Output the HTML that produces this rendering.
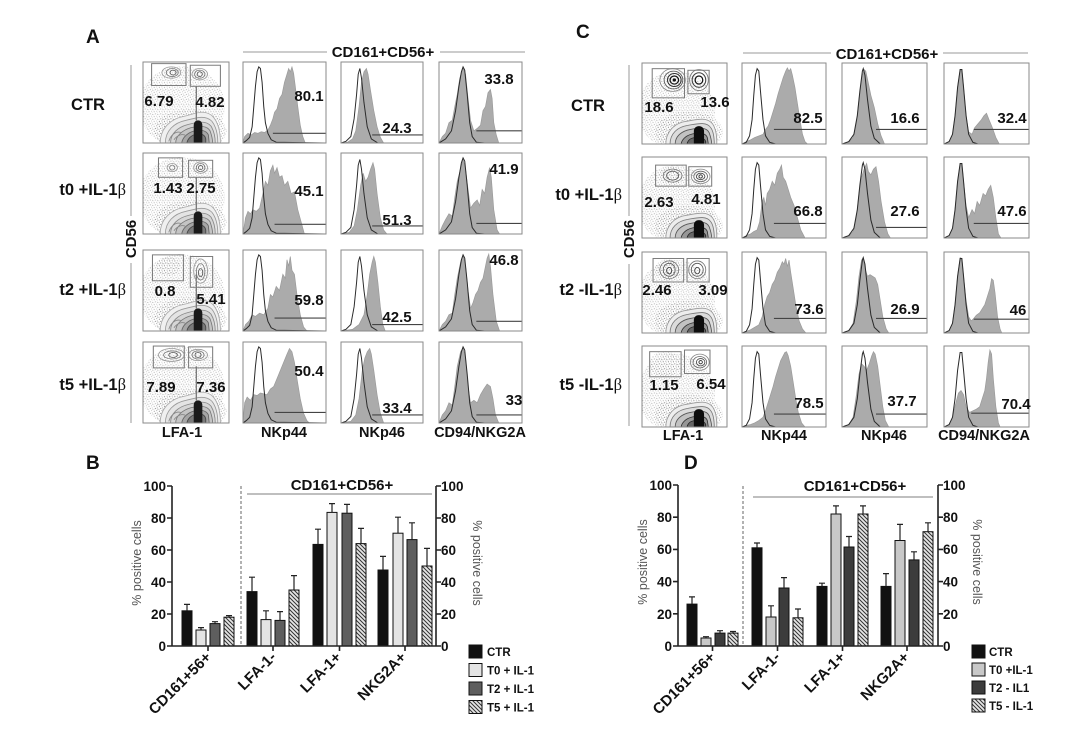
<!DOCTYPE html>
<html><head><meta charset="utf-8"><style>
html,body{margin:0;padding:0;background:#fff}
svg{display:block}
text{font-family:"Liberation Sans",Arial,sans-serif;font-weight:bold;fill:#111}
.num{font-size:15px;text-anchor:middle}
.col{font-size:14.5px;text-anchor:middle}
.rl{font-size:16.5px;text-anchor:end}
.let{font-size:19px}
.hdr{font-size:15px;text-anchor:middle}
.bx{fill:none;stroke:#8a8a8a;stroke-width:1}
.g{fill:#ababab;stroke:#9a9a9a;stroke-width:.8}
.o{fill:none;stroke:#2a2a2a;stroke-width:1.2}
.gt{stroke:#444;stroke-width:1.4}
.gate{fill:none;stroke:#7a7a7a;stroke-width:1.2}
.tk{font-size:13.5px}
.yl{font-size:12.5px;font-weight:normal;fill:#555;text-anchor:middle}
.xl{font-size:15px;text-anchor:end}
.lg{font-size:11.5px}
.ax{stroke:#222;stroke-width:1.6;fill:none}
.eb{stroke:#222;stroke-width:1.2;fill:none}
.bar{stroke:#111;stroke-width:1}
</style></head><body>
<svg width="1080" height="747" viewBox="0 0 1080 747" xmlns="http://www.w3.org/2000/svg">
<defs>
<pattern id="hatch" patternUnits="userSpaceOnUse" width="4" height="4"><rect width="4" height="4" fill="#e6e6e6"/><path d="M-1,-1L5,5M-1,3L1,5M3,-1L5,1" stroke="#333" stroke-width="1"/></pattern>
<pattern id="dots" patternUnits="userSpaceOnUse" width="6" height="6"><circle cx="1" cy="1.5" r=".6" fill="#888"/><circle cx="4" cy=".8" r=".55" fill="#999"/><circle cx="2.5" cy="4" r=".6" fill="#888"/><circle cx="5.2" cy="4.8" r=".55" fill="#999"/><circle cx="4.6" cy="2.8" r=".45" fill="#aaa"/><circle cx=".6" cy="5.3" r=".45" fill="#aaa"/></pattern>
<g id="mA">
<ellipse cx="45" cy="55" rx="50" ry="50" fill="url(#dots)" opacity=".85"/>
<ellipse cx="55" cy="85" rx="42" ry="26" fill="url(#dots)"/>
<path d="M20,100 C20,82 32,70 48,67 C60,64 70,58 80,66 C88,74 90,88 90,100 Z" fill="#f0f0f0" stroke="#aaa" stroke-width="1"/>
<path d="M26,100 C26,85 36,75 50,72 C62,69 72,65 80,73 C86,81 87,92 87,100 Z" fill="#e4e4e4" stroke="#999" stroke-width="1"/>
<path d="M32,100 C32,88 41,80 53,77 C64,74 73,72 79,79 C83,86 84,95 84,100 Z" fill="#d6d6d6" stroke="#888" stroke-width="1"/>
<path d="M38,100 C38,91 46,84 56,81 C66,79 74,78 78,85 C80,91 81,96 81,100 Z" fill="#c4c4c4" stroke="#777" stroke-width="1"/>
<path d="M45,100 C46,93 52,87 60,85 C68,83 74,85 76,90 L77,100 Z" fill="#a6a6a6" stroke="#666" stroke-width="1"/>
<path d="M51,100 C52,94 57,90 62,89 C68,88 72,90 73,95 L73,100 Z" fill="#7a7a7a" stroke="#444"/>
<path d="M59,100 L59,78 C59,70 69,70 69,78 L69,100 Z" fill="#1a1a1a"/>
<path d="M62,30 L62,72" stroke="#777" stroke-width="1.5"/>
<path d="M30,98 C32,90 38,85 44,87 M36,96 C40,90 46,88 50,91" fill="none" stroke="#888" stroke-width="1"/>
</g>
<g id="mC">
<ellipse cx="40" cy="58" rx="46" ry="48" fill="url(#dots)" opacity=".85"/>
<ellipse cx="55" cy="85" rx="40" ry="25" fill="url(#dots)"/>
<path d="M28,100 C28,85 38,74 52,72 C64,70 76,66 83,75 C88,83 88,93 88,100 Z" fill="#eee" stroke="#999" stroke-width="1"/>
<path d="M33,100 C33,88 41,79 54,77 C65,75 76,72 81,80 C85,86 85,95 85,100 Z" fill="#dcdcdc" stroke="#777" stroke-width="1"/>
<path d="M39,100 C39,91 46,84 57,82 C67,80 76,79 79,86 C81,92 82,96 82,100 Z" fill="#c2c2c2" stroke="#555" stroke-width="1"/>
<path d="M46,100 C47,93 54,88 62,87 C70,86 76,87 77,93 L78,100 Z" fill="#979797" stroke="#333" stroke-width="1"/>
<path d="M53,100 C54,95 58,92 64,92 C70,92 74,94 75,97 L75,100 Z" fill="#666" stroke="#222"/>
<path d="M61,100 L61,84 C61,76 73,76 73,84 L73,100 Z" fill="#0d0d0d"/>
</g>
<path id="oA44" d="M0,100 L4,97 L8,93 L11,80 L13,55 L15,30 L17,12 L19,6 L21,8 L23,25 L25,55 L27,75 L30,88 L34,96 L40,99 L100,100"/>
<path id="oA46" d="M0,100 L6,98 L12,92 L16,70 L19,40 L21,15 L23,8 L25,20 L28,50 L32,80 L37,95 L45,100 L100,100"/>
<path id="oA94" d="M0,100 L8,95 L15,85 L20,60 L24,30 L27,12 L29,6 L31,10 L34,40 L37,75 L40,92 L45,99 L55,100 L100,100"/>
<path id="oC44" d="M0,100 L5,98 L9,90 L12,70 L14,40 L16,15 L18,7 L20,10 L22,35 L25,70 L28,90 L33,98 L40,100 L100,100"/>
<path id="oC46" d="M0,100 L8,97 L14,88 L18,65 L21,35 L24,10 L25,7 L27,15 L30,45 L34,78 L38,93 L45,100 L100,100"/>
<path id="oC94" d="M0,100 L6,97 L10,88 L13,65 L16,30 L19,8 L21,8 L23,30 L26,65 L29,88 L34,98 L40,100 L100,100"/>
</defs>

<!-- ================= PANEL A ================= -->
<text x="86" y="43" class="let">A</text>
<line x1="243" y1="52" x2="327" y2="52" stroke="#999"/>
<line x1="440" y1="52" x2="525" y2="52" stroke="#999"/>
<text x="383" y="57" class="hdr">CD161+CD56+</text>
<line x1="131" y1="65" x2="131" y2="216" stroke="#999"/>
<line x1="131" y1="263" x2="131" y2="423" stroke="#999"/>
<text transform="translate(136,239) rotate(-90)" style="font-size:15px;text-anchor:middle">CD56</text>

<text x="88" y="110" style="font-size:16.5px;text-anchor:middle">CTR</text>
<text x="126" y="195" class="rl">t0 +IL-1<tspan style="font-family:'Liberation Serif',serif;font-weight:normal">β</tspan></text>
<text x="126" y="295" class="rl">t2 +IL-1<tspan style="font-family:'Liberation Serif',serif;font-weight:normal">β</tspan></text>
<text x="126" y="390" class="rl">t5 +IL-1<tspan style="font-family:'Liberation Serif',serif;font-weight:normal">β</tspan></text>

<!-- A row 1 -->
<svg x="143" y="62" width="86" height="81" viewBox="0 0 100 100" preserveAspectRatio="none">
<use href="#mA"/>
<g fill="none"><ellipse cx="33" cy="13" rx="11" ry="7" stroke="#999"/><ellipse cx="34" cy="13" rx="7" ry="5" stroke="#777"/><ellipse cx="35" cy="13" rx="3.5" ry="3" stroke="#555"/>
<ellipse cx="66" cy="15" rx="9" ry="7" stroke="#999"/><ellipse cx="66" cy="15" rx="6" ry="5" stroke="#777"/><ellipse cx="66" cy="15" rx="3" ry="3" stroke="#555"/></g>
<rect x="10" y="2" width="40" height="27" class="gate"/><rect x="55" y="4" width="35" height="26" class="gate"/>
</svg>
<rect x="143" y="62" width="86" height="81" class="bx"/>
<svg x="243" y="62" width="83" height="81" viewBox="0 0 100 100" preserveAspectRatio="none">
<path class="g" d="M0,100 L2,92 L6,88 L10,90 L14,87 L18,88 L22,86 L26,87 L30,84 L33,78 L36,70 L38,62 L41,58 L44,45 L47,40 L50,25 L53,15 L55,8 L57,12 L59,6 L61,14 L63,30 L66,55 L69,78 L72,92 L75,100 Z"/>
<use href="#oA44" class="o"/><line x1="36" y1="88" x2="100" y2="88" class="gt"/>
</svg>
<rect x="243" y="62" width="83" height="81" class="bx"/>
<svg x="341" y="62" width="82" height="81" viewBox="0 0 100 100" preserveAspectRatio="none">
<path class="g" d="M0,100 L8,99 L14,95 L18,85 L22,55 L25,25 L28,12 L31,8 L33,15 L36,35 L40,60 L44,80 L48,93 L52,100 Z"/>
<use href="#oA46" class="o"/><line x1="38" y1="90" x2="100" y2="90" class="gt"/>
</svg>
<rect x="341" y="62" width="82" height="81" class="bx"/>
<svg x="439" y="62" width="83" height="81" viewBox="0 0 100 100" preserveAspectRatio="none">
<path class="g" d="M0,100 L4,92 L8,88 L12,75 L16,72 L19,55 L22,40 L25,20 L29,7 L32,15 L35,45 L38,72 L42,85 L46,82 L50,78 L53,60 L56,55 L59,38 L62,34 L64,45 L66,75 L69,90 L72,100 Z"/>
<use href="#oA94" class="o"/><line x1="45" y1="85" x2="100" y2="85" class="gt"/>
</svg>
<rect x="439" y="62" width="83" height="81" class="bx"/>
<text x="159" y="106" class="num">6.79</text><text x="210" y="107" class="num">4.82</text>
<text x="309" y="101" class="num">80.1</text><text x="397" y="133" class="num">24.3</text><text x="499" y="84" class="num">33.8</text>

<!-- A row 2 -->
<svg x="143" y="153" width="86" height="81" viewBox="0 0 100 100" preserveAspectRatio="none">
<use href="#mA"/>
<g fill="none"><ellipse cx="34" cy="18" rx="6" ry="5" stroke="#999"/><ellipse cx="34" cy="18" rx="3" ry="3" stroke="#777"/>
<ellipse cx="67" cy="18" rx="8" ry="7" stroke="#999"/><ellipse cx="67" cy="18" rx="5" ry="5" stroke="#777"/><ellipse cx="67" cy="18" rx="2.5" ry="2.5" stroke="#555"/></g>
<rect x="18" y="6" width="28" height="24" class="gate"/><rect x="53" y="9" width="28" height="21" class="gate"/>
</svg>
<rect x="143" y="153" width="86" height="81" class="bx"/>
<svg x="243" y="153" width="83" height="81" viewBox="0 0 100 100" preserveAspectRatio="none">
<path class="g" d="M0,100 L3,80 L6,72 L9,75 L12,70 L16,72 L20,68 L24,50 L27,35 L30,40 L33,22 L36,15 L38,25 L41,18 L44,30 L47,28 L50,40 L54,35 L58,50 L62,48 L66,70 L70,85 L74,100 Z"/>
<use href="#oA44" class="o"/><line x1="38" y1="88" x2="100" y2="88" class="gt"/>
</svg>
<rect x="243" y="153" width="83" height="81" class="bx"/>
<svg x="341" y="153" width="82" height="81" viewBox="0 0 100 100" preserveAspectRatio="none">
<path class="g" d="M0,100 L10,98 L16,90 L20,70 L24,40 L27,25 L30,35 L33,30 L36,20 L39,12 L41,20 L44,50 L48,80 L52,95 L56,100 Z"/>
<use href="#oA46" class="o"/><line x1="38" y1="90" x2="100" y2="90" class="gt"/>
</svg>
<rect x="341" y="153" width="82" height="81" class="bx"/>
<svg x="439" y="153" width="83" height="81" viewBox="0 0 100 100" preserveAspectRatio="none">
<path class="g" d="M0,100 L4,90 L8,82 L12,75 L16,78 L19,55 L22,35 L26,20 L29,8 L32,20 L35,45 L38,68 L42,62 L46,58 L49,65 L52,45 L55,50 L58,30 L61,18 L63,30 L66,70 L70,95 L73,100 Z"/>
<use href="#oA94" class="o"/><line x1="45" y1="87" x2="100" y2="87" class="gt"/>
</svg>
<rect x="439" y="153" width="83" height="81" class="bx"/>
<text x="168" y="193" class="num">1.43</text><text x="201" y="193" class="num">2.75</text>
<text x="309" y="196" class="num">45.1</text><text x="397" y="225" class="num">51.3</text><text x="504" y="174" class="num">41.9</text>

<!-- A row 3 -->
<svg x="143" y="250" width="86" height="81" viewBox="0 0 100 100" preserveAspectRatio="none">
<use href="#mA"/>
<ellipse cx="29" cy="20" rx="14" ry="12" fill="url(#dots)"/>
<g fill="none"><ellipse cx="67" cy="26" rx="8" ry="15" stroke="#999"/><ellipse cx="67" cy="27" rx="5" ry="10" stroke="#777"/><ellipse cx="67" cy="28" rx="2.5" ry="5" stroke="#555"/></g>
<rect x="11" y="6" width="36" height="32" class="gate"/><rect x="55" y="8" width="26" height="38" class="gate"/>
</svg>
<rect x="143" y="250" width="86" height="81" class="bx"/>
<svg x="243" y="250" width="83" height="81" viewBox="0 0 100 100" preserveAspectRatio="none">
<path class="g" d="M0,100 L3,92 L7,88 L11,80 L15,82 L20,78 L25,80 L30,72 L33,55 L36,58 L40,45 L44,50 L48,30 L51,35 L53,12 L55,20 L57,8 L59,25 L62,30 L65,55 L69,80 L73,95 L77,100 Z"/>
<use href="#oA44" class="o"/><line x1="38" y1="84" x2="100" y2="84" class="gt"/>
</svg>
<rect x="243" y="250" width="83" height="81" class="bx"/>
<svg x="341" y="250" width="82" height="81" viewBox="0 0 100 100" preserveAspectRatio="none">
<path class="g" d="M0,100 L14,98 L22,92 L28,80 L32,55 L35,30 L38,15 L40,8 L42,15 L45,40 L48,70 L51,92 L54,100 Z"/>
<use href="#oA46" class="o"/><line x1="38" y1="92" x2="100" y2="92" class="gt"/>
</svg>
<rect x="341" y="250" width="82" height="81" class="bx"/>
<svg x="439" y="250" width="83" height="81" viewBox="0 0 100 100" preserveAspectRatio="none">
<path class="g" d="M0,100 L4,92 L8,88 L12,80 L16,78 L19,55 L22,35 L26,15 L29,6 L32,20 L35,50 L38,72 L41,65 L44,55 L47,50 L50,40 L53,35 L56,20 L58,10 L60,5 L62,20 L65,55 L69,88 L73,100 Z"/>
<use href="#oA94" class="o"/><line x1="45" y1="88" x2="100" y2="88" class="gt"/>
</svg>
<rect x="439" y="250" width="83" height="81" class="bx"/>
<text x="165" y="296" class="num">0.8</text><text x="211" y="304" class="num">5.41</text>
<text x="309" y="305" class="num">59.8</text><text x="397" y="322" class="num">42.5</text><text x="504" y="265" class="num">46.8</text>

<!-- A row 4 -->
<svg x="143" y="342" width="86" height="81" viewBox="0 0 100 100" preserveAspectRatio="none">
<use href="#mA"/>
<g fill="none"><ellipse cx="33" cy="16" rx="15" ry="8" stroke="#999"/><ellipse cx="34" cy="16" rx="10" ry="5" stroke="#777"/><ellipse cx="35" cy="16" rx="5" ry="3" stroke="#555"/>
<ellipse cx="64" cy="16" rx="11" ry="7" stroke="#999"/><ellipse cx="64" cy="16" rx="7" ry="5" stroke="#777"/><ellipse cx="64" cy="16" rx="3.5" ry="3" stroke="#555"/></g>
<rect x="12" y="5" width="36" height="27" class="gate"/><rect x="53" y="6" width="28" height="26" class="gate"/>
</svg>
<rect x="143" y="342" width="86" height="81" class="bx"/>
<svg x="243" y="342" width="83" height="81" viewBox="0 0 100 100" preserveAspectRatio="none">
<path class="g" d="M0,100 L2,75 L5,68 L9,72 L13,65 L17,66 L21,63 L25,64 L29,65 L33,58 L37,55 L41,45 L45,35 L49,25 L53,15 L56,8 L59,12 L62,25 L65,45 L69,70 L73,88 L77,97 L80,100 Z"/>
<use href="#oA44" class="o"/><line x1="38" y1="87" x2="100" y2="87" class="gt"/>
</svg>
<rect x="243" y="342" width="83" height="81" class="bx"/>
<svg x="341" y="342" width="82" height="81" viewBox="0 0 100 100" preserveAspectRatio="none">
<path class="g" d="M0,100 L12,98 L18,90 L22,70 L26,35 L29,20 L32,12 L35,8 L37,15 L40,35 L44,65 L48,88 L52,100 Z"/>
<use href="#oA46" class="o"/><line x1="38" y1="90" x2="100" y2="90" class="gt"/>
</svg>
<rect x="341" y="342" width="82" height="81" class="bx"/>
<svg x="439" y="342" width="83" height="81" viewBox="0 0 100 100" preserveAspectRatio="none">
<path class="g" d="M0,100 L4,90 L8,85 L12,75 L16,78 L19,55 L22,30 L26,12 L29,7 L32,20 L35,55 L38,75 L42,72 L46,75 L50,65 L54,58 L58,52 L62,55 L65,70 L68,90 L72,100 Z"/>
<use href="#oA94" class="o"/><line x1="45" y1="90" x2="100" y2="90" class="gt"/>
</svg>
<rect x="439" y="342" width="83" height="81" class="bx"/>
<text x="161" y="392" class="num">7.89</text><text x="211" y="392" class="num">7.36</text>
<text x="309" y="376" class="num">50.4</text><text x="397" y="413" class="num">33.4</text><text x="514" y="405" class="num">33</text>

<text x="182" y="437" class="col">LFA-1</text><text x="284" y="437" class="col">NKp44</text><text x="382" y="437" class="col">NKp46</text><text x="480" y="437" class="col">CD94/NKG2A</text>

<!-- ================= PANEL C ================= -->
<text x="576" y="38" class="let">C</text>
<line x1="743" y1="53" x2="831" y2="53" stroke="#999"/>
<line x1="943" y1="53" x2="1028" y2="53" stroke="#999"/>
<text x="887" y="59" class="hdr">CD161+CD56+</text>
<line x1="629" y1="65" x2="629" y2="216" stroke="#999"/>
<line x1="629" y1="264" x2="629" y2="426" stroke="#999"/>
<text transform="translate(634,239) rotate(-90)" style="font-size:15px;text-anchor:middle">CD56</text>

<text x="588" y="111" style="font-size:16.5px;text-anchor:middle">CTR</text>
<text x="622" y="200" class="rl">t0 +IL-1<tspan style="font-family:'Liberation Serif',serif;font-weight:normal">β</tspan></text>
<text x="622" y="295" class="rl">t2 -IL-1<tspan style="font-family:'Liberation Serif',serif;font-weight:normal">β</tspan></text>
<text x="622" y="390" class="rl">t5 -IL-1<tspan style="font-family:'Liberation Serif',serif;font-weight:normal">β</tspan></text>

<!-- C row 1 -->
<svg x="642" y="63" width="85" height="81" viewBox="0 0 100 100" preserveAspectRatio="none">
<use href="#mC"/>
<g fill="none"><ellipse cx="36" cy="21" rx="15" ry="14" stroke="#888"/><ellipse cx="37" cy="21" rx="11" ry="11" stroke="#555"/><ellipse cx="38" cy="21" rx="8" ry="8" stroke="#333" stroke-width="1.3"/><ellipse cx="38" cy="21" rx="5" ry="5" stroke="#111" stroke-width="1.5"/></g>
<ellipse cx="38" cy="21" rx="2" ry="2" fill="#111"/>
<g fill="none"><ellipse cx="67" cy="21" rx="11" ry="13" stroke="#777"/><ellipse cx="67" cy="21" rx="8" ry="9" stroke="#444" stroke-width="1.3"/><ellipse cx="67" cy="21" rx="4.5" ry="5" stroke="#111" stroke-width="1.5"/></g>
<rect x="12" y="7" width="38" height="36" class="gate"/><rect x="54" y="9" width="25" height="29" class="gate"/>
</svg>
<rect x="642" y="63" width="85" height="81" class="bx"/>
<svg x="742" y="63" width="84" height="81" viewBox="0 0 100 100" preserveAspectRatio="none">
<path class="g" d="M0,100 L5,97 L10,95 L15,92 L20,90 L25,88 L28,82 L31,78 L34,70 L37,60 L40,50 L43,38 L46,28 L49,18 L52,10 L54,6 L56,10 L58,7 L60,15 L63,30 L66,50 L69,70 L72,88 L75,97 L78,100 Z"/>
<use href="#oC44" class="o"/><line x1="38" y1="82" x2="100" y2="82" class="gt"/>
</svg>
<rect x="742" y="63" width="84" height="81" class="bx"/>
<svg x="842" y="63" width="85" height="81" viewBox="0 0 100 100" preserveAspectRatio="none">
<path class="g" d="M0,100 L8,98 L13,92 L17,75 L20,45 L23,20 L26,8 L28,10 L31,25 L34,40 L38,55 L42,75 L46,90 L50,100 Z"/>
<use href="#oC46" class="o"/><line x1="40" y1="82" x2="100" y2="82" class="gt"/>
</svg>
<rect x="842" y="63" width="85" height="81" class="bx"/>
<svg x="944" y="63" width="85" height="81" viewBox="0 0 100 100" preserveAspectRatio="none">
<path class="g" d="M0,100 L6,97 L10,88 L13,65 L16,30 L19,8 L21,8 L23,30 L26,65 L29,85 L33,88 L36,80 L40,75 L44,70 L47,65 L50,62 L53,70 L57,80 L61,92 L65,100 Z"/>
<use href="#oC94" class="o"/><line x1="35" y1="82" x2="100" y2="82" class="gt"/>
</svg>
<rect x="944" y="63" width="85" height="81" class="bx"/>
<text x="659" y="112" class="num">18.6</text><text x="715" y="107" class="num">13.6</text>
<text x="808" y="123" class="num">82.5</text><text x="905" y="123" class="num">16.6</text><text x="1012" y="123" class="num">32.4</text>

<!-- C row 2 -->
<svg x="642" y="157" width="85" height="81" viewBox="0 0 100 100" preserveAspectRatio="none">
<use href="#mC"/>
<ellipse cx="35" cy="23" rx="16" ry="11" fill="url(#dots)"/>
<g fill="none"><ellipse cx="36" cy="23" rx="11" ry="8" stroke="#777"/><ellipse cx="36" cy="23" rx="7" ry="5.5" stroke="#555"/>
<ellipse cx="69" cy="24" rx="11" ry="9" stroke="#888"/><ellipse cx="69" cy="24" rx="8" ry="6.5" stroke="#666"/><ellipse cx="69" cy="24" rx="5" ry="4" stroke="#444"/><ellipse cx="69" cy="24" rx="2" ry="2" stroke="#222"/></g>
<rect x="16" y="10" width="36" height="26" class="gate"/><rect x="55" y="12" width="27" height="24" class="gate"/>
</svg>
<rect x="642" y="157" width="85" height="81" class="bx"/>
<svg x="742" y="157" width="84" height="81" viewBox="0 0 100 100" preserveAspectRatio="none">
<path class="g" d="M0,100 L5,97 L10,95 L14,92 L18,90 L21,80 L24,55 L26,50 L28,60 L30,45 L33,40 L36,30 L39,35 L42,20 L45,15 L47,10 L49,25 L52,30 L55,40 L58,50 L62,60 L66,75 L70,90 L75,100 Z"/>
<use href="#oC44" class="o"/><line x1="38" y1="82" x2="100" y2="82" class="gt"/>
</svg>
<rect x="742" y="157" width="84" height="81" class="bx"/>
<svg x="842" y="157" width="85" height="81" viewBox="0 0 100 100" preserveAspectRatio="none">
<path class="g" d="M0,100 L8,98 L13,92 L17,75 L20,45 L23,25 L26,15 L29,8 L31,18 L34,22 L37,15 L40,12 L43,30 L46,55 L50,80 L54,95 L57,100 Z"/>
<use href="#oC46" class="o"/><line x1="40" y1="87" x2="100" y2="87" class="gt"/>
</svg>
<rect x="842" y="157" width="85" height="81" class="bx"/>
<svg x="944" y="157" width="85" height="81" viewBox="0 0 100 100" preserveAspectRatio="none">
<path class="g" d="M0,100 L6,97 L10,88 L13,65 L16,30 L19,8 L21,8 L23,30 L26,60 L29,75 L33,65 L36,70 L39,55 L42,60 L46,45 L49,48 L52,40 L55,35 L58,50 L61,75 L64,95 L67,100 Z"/>
<use href="#oC94" class="o"/><line x1="35" y1="82" x2="100" y2="82" class="gt"/>
</svg>
<rect x="944" y="157" width="85" height="81" class="bx"/>
<text x="659" y="207" class="num">2.63</text><text x="706" y="204" class="num">4.81</text>
<text x="808" y="216" class="num">66.8</text><text x="905" y="216" class="num">27.6</text><text x="1012" y="216" class="num">47.6</text>

<!-- C row 3 -->
<svg x="642" y="252" width="85" height="81" viewBox="0 0 100 100" preserveAspectRatio="none">
<use href="#mC"/>
<ellipse cx="31" cy="22" rx="16" ry="13" fill="url(#dots)"/>
<g fill="none"><ellipse cx="32" cy="22" rx="11" ry="11" stroke="#777"/><ellipse cx="32" cy="22" rx="7" ry="8" stroke="#555"/><ellipse cx="32" cy="23" rx="3" ry="4" stroke="#333"/>
<ellipse cx="65" cy="22" rx="10" ry="11" stroke="#777"/><ellipse cx="65" cy="22" rx="7" ry="8" stroke="#555"/><ellipse cx="65" cy="23" rx="3" ry="4" stroke="#333"/></g>
<rect x="13" y="8" width="36" height="29" class="gate"/><rect x="53" y="8" width="26" height="29" class="gate"/>
</svg>
<rect x="642" y="252" width="85" height="81" class="bx"/>
<svg x="742" y="252" width="84" height="81" viewBox="0 0 100 100" preserveAspectRatio="none">
<path class="g" d="M0,100 L5,98 L10,96 L15,93 L20,90 L24,80 L27,65 L30,55 L33,50 L36,40 L39,35 L42,25 L45,20 L48,12 L50,15 L52,8 L54,18 L56,10 L58,25 L61,45 L64,65 L68,85 L72,95 L76,100 Z"/>
<use href="#oC44" class="o"/><line x1="38" y1="82" x2="100" y2="82" class="gt"/>
</svg>
<rect x="742" y="252" width="84" height="81" class="bx"/>
<svg x="842" y="252" width="85" height="81" viewBox="0 0 100 100" preserveAspectRatio="none">
<path class="g" d="M0,100 L8,97 L13,88 L17,60 L20,30 L23,10 L25,7 L27,20 L30,30 L33,28 L36,30 L39,32 L42,40 L45,60 L48,80 L52,95 L55,100 Z"/>
<use href="#oC46" class="o"/><line x1="40" y1="82" x2="100" y2="82" class="gt"/>
</svg>
<rect x="842" y="252" width="85" height="81" class="bx"/>
<svg x="944" y="252" width="85" height="81" viewBox="0 0 100 100" preserveAspectRatio="none">
<path class="g" d="M0,100 L6,97 L10,88 L13,65 L16,30 L19,7 L21,8 L23,30 L26,60 L29,80 L32,85 L35,82 L38,78 L42,75 L45,70 L48,65 L51,55 L54,45 L56,33 L58,35 L60,50 L63,80 L66,95 L68,100 Z"/>
<use href="#oC94" class="o"/><line x1="35" y1="83" x2="100" y2="83" class="gt"/>
</svg>
<rect x="944" y="252" width="85" height="81" class="bx"/>
<text x="657" y="295" class="num">2.46</text><text x="713" y="295" class="num">3.09</text>
<text x="809" y="314" class="num">73.6</text><text x="905" y="314" class="num">26.9</text><text x="1018" y="315" class="num">46</text>

<!-- C row 4 -->
<svg x="642" y="346" width="85" height="81" viewBox="0 0 100 100" preserveAspectRatio="none">
<use href="#mC"/>
<ellipse cx="27" cy="22" rx="18" ry="16" fill="url(#dots)"/>
<g fill="none"><ellipse cx="68" cy="20" rx="11" ry="10" stroke="#888"/><ellipse cx="68" cy="20" rx="8" ry="7" stroke="#666"/><ellipse cx="69" cy="20" rx="5" ry="4.5" stroke="#444"/><ellipse cx="69" cy="20" rx="2" ry="2" stroke="#222"/></g>
<rect x="9" y="7" width="37" height="31" class="gate"/><rect x="50" y="5" width="30" height="29" class="gate"/>
</svg>
<rect x="642" y="346" width="85" height="81" class="bx"/>
<svg x="742" y="346" width="84" height="81" viewBox="0 0 100 100" preserveAspectRatio="none">
<path class="g" d="M0,100 L5,98 L10,97 L15,95 L20,92 L25,88 L28,80 L31,70 L34,60 L37,50 L40,38 L43,28 L46,18 L49,12 L51,8 L53,7 L55,12 L58,25 L61,45 L64,65 L67,82 L71,95 L75,100 Z"/>
<use href="#oC44" class="o"/><line x1="38" y1="84" x2="100" y2="84" class="gt"/>
</svg>
<rect x="742" y="346" width="84" height="81" class="bx"/>
<svg x="842" y="346" width="85" height="81" viewBox="0 0 100 100" preserveAspectRatio="none">
<path class="g" d="M0,100 L8,97 L13,88 L17,60 L20,35 L23,22 L26,25 L29,30 L32,22 L35,12 L37,7 L39,10 L42,25 L45,50 L48,75 L51,92 L55,100 Z"/>
<use href="#oC46" class="o"/><line x1="40" y1="84" x2="100" y2="84" class="gt"/>
</svg>
<rect x="842" y="346" width="85" height="81" class="bx"/>
<svg x="944" y="346" width="85" height="81" viewBox="0 0 100 100" preserveAspectRatio="none">
<path class="g" d="M0,100 L6,97 L10,88 L14,70 L17,58 L20,55 L23,60 L26,75 L30,82 L34,80 L38,78 L42,75 L45,65 L48,55 L50,40 L52,20 L54,5 L56,10 L58,40 L61,75 L64,95 L66,100 Z"/>
<use href="#oC94" class="o"/><line x1="32" y1="83" x2="100" y2="83" class="gt"/>
</svg>
<rect x="944" y="346" width="85" height="81" class="bx"/>
<text x="664" y="390" class="num">1.15</text><text x="711" y="389" class="num">6.54</text>
<text x="809" y="408" class="num">78.5</text><text x="902" y="406" class="num">37.7</text><text x="1016" y="409" class="num">70.4</text>

<text x="683" y="440" class="col">LFA-1</text><text x="784" y="440" class="col">NKp44</text><text x="884" y="440" class="col">NKp46</text><text x="984" y="440" class="col">CD94/NKG2A</text>

<!-- ================= PANEL B ================= -->
<text x="86" y="469" class="let">B</text>
<text x="342" y="490" class="hdr">CD161+CD56+</text>
<line x1="247" y1="494" x2="432" y2="494" stroke="#999" stroke-width="1.2"/>
<line x1="241" y1="486" x2="241" y2="646" stroke="#666" stroke-dasharray="3,2"/>
<g class="bar">
<rect x="182" y="610.8" width="10" height="35.2" fill="#111"/>
<rect x="196" y="630" width="10" height="16" fill="#e4e4e4"/>
<rect x="210" y="623.6" width="10" height="22.4" fill="#5e5e5e"/>
<rect x="224" y="617.2" width="10" height="28.8" fill="url(#hatch)"/>
<rect x="247" y="591.6" width="10" height="54.4" fill="#111"/>
<rect x="261" y="619.6" width="10" height="26.4" fill="#e4e4e4"/>
<rect x="275" y="620.4" width="10" height="25.6" fill="#5e5e5e"/>
<rect x="289" y="590" width="10" height="56" fill="url(#hatch)"/>
<rect x="313" y="544.4" width="10" height="101.6" fill="#111"/>
<rect x="327" y="512.4" width="10" height="133.6" fill="#e4e4e4"/>
<rect x="342" y="513.2" width="10" height="132.8" fill="#5e5e5e"/>
<rect x="356" y="543.6" width="10" height="102.4" fill="url(#hatch)"/>
<rect x="378" y="570" width="10" height="76" fill="#111"/>
<rect x="393" y="533.2" width="10" height="112.8" fill="#e4e4e4"/>
<rect x="407" y="539.6" width="10" height="106.4" fill="#5e5e5e"/>
<rect x="422" y="566" width="10" height="80" fill="url(#hatch)"/>
</g>
<path class="eb" d="M187,610.8V604.4M184,604.4H190 M201,630V627.6M198,627.6H204 M215,623.6V621.7M212,621.7H218 M229,617.2V615.6M226,615.6H232
M252,591.6V577.2M249,577.2H255 M266,619.6V610.8M263,610.8H269 M280,620.4V611.6M277,611.6H283 M294,590V575.6M291,575.6H297
M318,544.4V529.2M315,529.2H321 M332,512.4V503.6M329,503.6H335 M347,513.2V504.4M344,504.4H350 M361,543.6V528.4M358,528.4H364
M383,570V556.4M380,556.4H386 M398,533.2V517.2M395,517.2H401 M412,539.6V522.8M409,522.8H415 M427,566V548.4M424,548.4H430"/>
<path class="ax" d="M172,486V646H436V486 M167,646H172M167,614H172M167,582H172M167,550H172M167,518H172M167,486H172 M436,646H441M436,614H441M436,582H441M436,550H441M436,518H441M436,486H441 M208,646V651M273,646V651M339.5,646V651M405,646V651"/>
<g class="tk" style="text-anchor:end">
<text x="166" y="651">0</text><text x="166" y="619">20</text><text x="166" y="587">40</text><text x="166" y="555">60</text><text x="166" y="523">80</text><text x="166" y="491">100</text>
</g>
<g class="tk">
<text x="441" y="651">0</text><text x="441" y="619">20</text><text x="441" y="587">40</text><text x="441" y="555">60</text><text x="441" y="523">80</text><text x="441" y="491">100</text>
</g>
<text transform="translate(141,563) rotate(-90)" class="yl">% positive cells</text>
<text transform="translate(473,563) rotate(90)" class="yl">% positive cells</text>
<text transform="translate(212,658) rotate(-45)" class="xl">CD161+56+</text>
<text transform="translate(277,658) rotate(-45)" class="xl">LFA-1-</text>
<text transform="translate(342,658) rotate(-45)" class="xl">LFA-1+</text>
<text transform="translate(407,658) rotate(-45)" class="xl">NKG2A+</text>
<g class="bar">
<rect x="469" y="645" width="13" height="13" fill="#111"/>
<rect x="469" y="663.5" width="13" height="13" fill="#e4e4e4"/>
<rect x="469" y="682" width="13" height="13" fill="#5e5e5e"/>
<rect x="469" y="700.5" width="13" height="13" fill="url(#hatch)"/>
</g>
<g class="lg"><text x="487" y="656">CTR</text><text x="487" y="674.5">T0 + IL-1</text><text x="487" y="693">T2 + IL-1</text><text x="487" y="711.5">T5 + IL-1</text></g>

<!-- ================= PANEL D ================= -->
<text x="684" y="469" class="let">D</text>
<text x="855" y="491" class="hdr">CD161+CD56+</text>
<line x1="753" y1="497" x2="933" y2="497" stroke="#999" stroke-width="1.2"/>
<line x1="743" y1="486" x2="743" y2="646" stroke="#666" stroke-dasharray="3,2"/>
<g class="bar">
<rect x="687" y="604.1" width="10" height="41.9" fill="#111"/>
<rect x="701" y="638" width="10" height="8" fill="#c8c8c8"/>
<rect x="715" y="633.1" width="10" height="12.9" fill="#3c3c3c"/>
<rect x="728" y="633.1" width="10" height="12.9" fill="url(#hatch)"/>
<rect x="752" y="547.8" width="10" height="98.2" fill="#111"/>
<rect x="766" y="617" width="10" height="29" fill="#c8c8c8"/>
<rect x="779" y="588" width="10" height="58" fill="#3c3c3c"/>
<rect x="793" y="617.8" width="10" height="28.2" fill="url(#hatch)"/>
<rect x="817" y="586.4" width="10" height="59.6" fill="#111"/>
<rect x="831" y="514" width="10" height="132" fill="#c8c8c8"/>
<rect x="844" y="547" width="10" height="99" fill="#3c3c3c"/>
<rect x="858" y="514" width="10" height="132" fill="url(#hatch)"/>
<rect x="881" y="586.4" width="10" height="59.6" fill="#111"/>
<rect x="895" y="540.5" width="10" height="105.5" fill="#c8c8c8"/>
<rect x="909" y="559.9" width="10" height="86.1" fill="#3c3c3c"/>
<rect x="923" y="531.7" width="10" height="114.3" fill="url(#hatch)"/>
</g>
<path class="eb" d="M692,604.1V596.9M689,596.9H695 M706,638V636.7M703,636.7H709 M720,633.1V630.7M717,630.7H723 M733,633.1V631.5M730,631.5H736
M757,547.8V543M754,543H760 M771,617V605.8M768,605.8H774 M784,588V577.6M781,577.6H787 M798,617.8V609M795,609H801
M822,586.4V583.2M819,583.2H825 M836,514V505.9M833,505.9H839 M849,547V536.5M846,536.5H852 M863,514V505.9M860,505.9H866
M886,586.4V573.6M883,573.6H889 M900,540.5V524.4M897,524.4H903 M914,559.9V551.8M911,551.8H917 M928,531.7V522.8M925,522.8H931"/>
<path class="ax" d="M678,485V646H938V485 M673,646H678M673,613.8H678M673,581.6H678M673,549.4H678M673,517.2H678M673,485H678 M938,646H943M938,613.8H943M938,581.6H943M938,549.4H943M938,517.2H943M938,485H943 M712.5,646V651M777.5,646V651M842.5,646V651M907,646V651"/>
<g class="tk" style="text-anchor:end">
<text x="672" y="651">0</text><text x="672" y="619">20</text><text x="672" y="586.5">40</text><text x="672" y="554">60</text><text x="672" y="522">80</text><text x="672" y="490">100</text>
</g>
<g class="tk">
<text x="943" y="651">0</text><text x="943" y="619">20</text><text x="943" y="586.5">40</text><text x="943" y="554">60</text><text x="943" y="522">80</text><text x="943" y="490">100</text>
</g>
<text transform="translate(647,562) rotate(-90)" class="yl">% positive cells</text>
<text transform="translate(973,562) rotate(90)" class="yl">% positive cells</text>
<text transform="translate(716,658) rotate(-45)" class="xl">CD161+56+</text>
<text transform="translate(781,658) rotate(-45)" class="xl">LFA-1-</text>
<text transform="translate(846,658) rotate(-45)" class="xl">LFA-1+</text>
<text transform="translate(910,658) rotate(-45)" class="xl">NKG2A+</text>
<g class="bar">
<rect x="972" y="645" width="13" height="13" fill="#111"/>
<rect x="972" y="663" width="13" height="13" fill="#c8c8c8"/>
<rect x="972" y="681" width="13" height="13" fill="#3c3c3c"/>
<rect x="972" y="699" width="13" height="13" fill="url(#hatch)"/>
</g>
<g class="lg"><text x="989" y="656">CTR</text><text x="989" y="674">T0 +IL-1</text><text x="989" y="692">T2 - IL1</text><text x="989" y="710">T5 - IL-1</text></g>
</svg>
</body></html>
